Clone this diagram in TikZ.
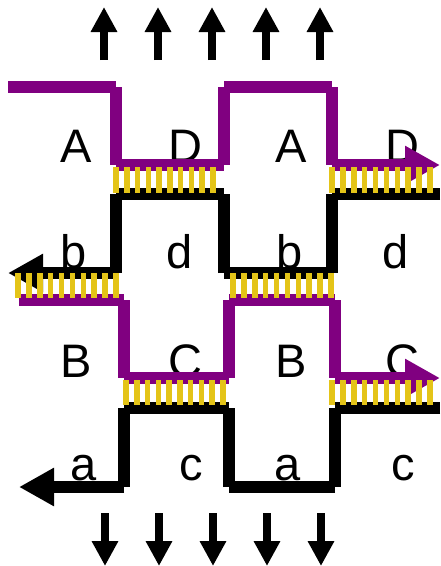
\documentclass[tikz,border=0pt]{standalone}
\usepackage{fontspec}
\setmainfont{Liberation Sans}
\usetikzlibrary{arrows.meta}
\definecolor{strandpurple}{RGB}{128,0,128}
\definecolor{bondgold}{RGB}{228,196,24}
\tikzset{
  purplestrand/.style={draw=strandpurple, line width=11.5pt, line cap=butt},
  blackstrand/.style={draw=black, line width=11.5pt, line cap=butt},
  bond/.style={draw=bondgold, line width=5.5pt},
  letter/.style={anchor=base, inner sep=0pt, font=\fontsize{47}{56}\selectfont},
  flowarrow/.style={draw=black, line width=8pt, -{Triangle[width=25pt,length=25pt]}},
  endtip/.style={-{Triangle[width=36pt,length=35pt]}},
}
\begin{document}
\begin{tikzpicture}[x=1pt,y=-1pt]
\useasboundingbox (0,0) rectangle (440,566);

% segment labels
\node[letter] (A1) at (76,162) {A};
\node[letter] (D1) at (185,162) {D};
\node[letter] (A2) at (291,162) {A};
\node[letter] (D2) at (402,162) {D};
\node[letter] (b1) at (74,268) {b};
\node[letter] (d1) at (180,268) {d};
\node[letter] (b2) at (290,268) {b};
\node[letter] (d2) at (396,268) {d};
\node[letter] (B1) at (76,377) {B};
\node[letter] (C1) at (185,377) {C};
\node[letter] (B2) at (291,377) {B};
\node[letter] (C2) at (402,377) {C};
\node[letter] (a1) at (84,480) {a};
\node[letter] (c1) at (191,480) {c};
\node[letter] (a2) at (288,480) {a};
\node[letter] (c2) at (403,480) {c};

% upper purple strand
\draw[purplestrand] (8,87) -- (116,87) (116,87) -- (116,165) (116,165) -- (224,165)
  (224,165) -- (224,87) (224,87) -- (332,87) (332,87) -- (332,165);
\draw[purplestrand, endtip] (332,165) -- (440,165);

% upper black strand
\draw[blackstrand] (440,194) -- (332,194) (332,194) -- (332,273) (332,273) -- (224,273)
  (224,273) -- (224,194) (224,194) -- (116,194) (116,194) -- (116,273);
\draw[blackstrand, endtip] (116,273) -- (8,273);

% lower purple strand
\draw[purplestrand] (19,300) -- (124,300) (124,300) -- (124,378) (124,378) -- (229,378)
  (229,378) -- (229,300) (229,300) -- (335,300) (335,300) -- (335,378);
\draw[purplestrand, endtip] (335,378) -- (440,378);

% lower black strand
\draw[blackstrand] (440,408) -- (335,408) (335,408) -- (335,487) (335,487) -- (229,487)
  (229,487) -- (229,408) (229,408) -- (124,408) (124,408) -- (124,487);
\draw[blackstrand, endtip] (124,487) -- (19,487);

% base-pair rungs: {first x / last x / top y / bottom y}
\foreach \xa/\xb/\ya/\yb in {116/213/167/193, 332/430/167/193,
                             18/116/273/298, 233/331/273/298,
                             126/223/380/405, 332/430/380/405}{
  \foreach \i in {0,...,9}{
    \draw[bond] ({\xa+\i*(\xb-\xa)/9},\ya) -- ({\xa+\i*(\xb-\xa)/9},\yb);
  }
}

% flow arrows above and below
\foreach \x in {104,158,212,266,320}{
  \draw[flowarrow] (\x,60) -- (\x,7);
}
\foreach \x in {105,159,213,267,321}{
  \draw[flowarrow] (\x,513) -- (\x,566);
}
\end{tikzpicture}
\end{document}
